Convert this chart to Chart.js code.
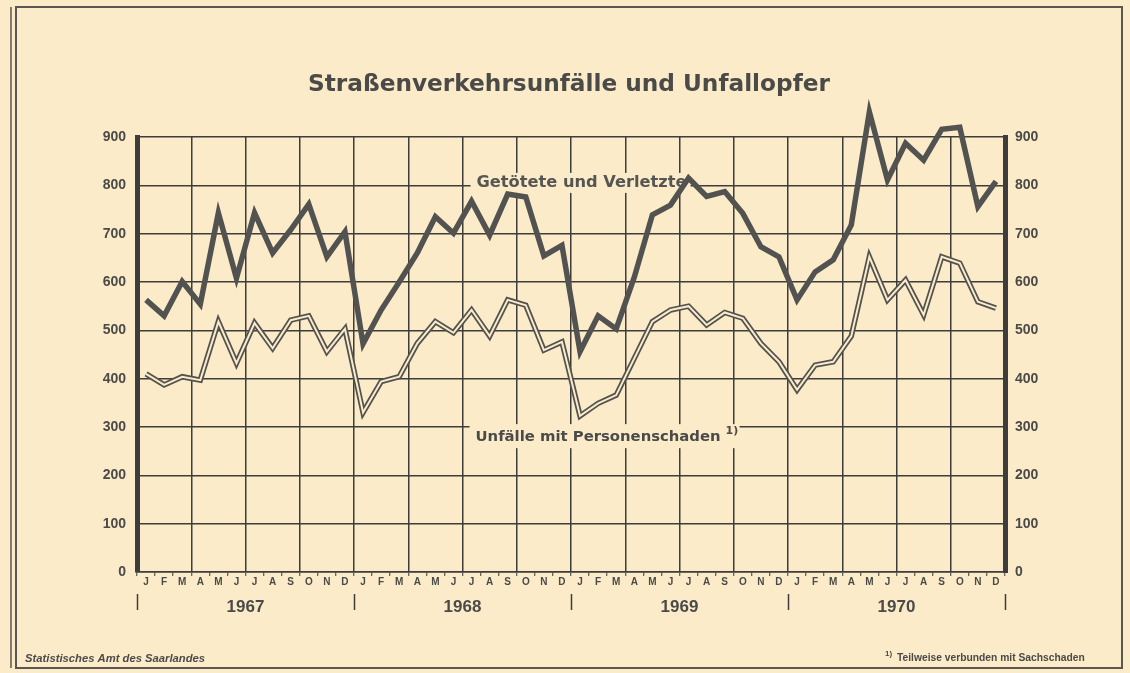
<!DOCTYPE html>
<html>
<head>
<meta charset="utf-8">
<script src="https://cdn.jsdelivr.net/npm/chart.js@4.4.0/dist/chart.umd.min.js"></script>
<style>
html,body{margin:0;padding:0;background:#fbebc8;}
#wrap{position:relative;width:1130px;height:673px;}
canvas{display:block;}
</style>
</head>
<body>
<div id="wrap"><canvas id="c" width="1130" height="673"></canvas></div>
<script>
// ---- data ----
const monthLetters = ['J','F','M','A','M','J','J','A','S','O','N','D'];
const years = ['1967','1968','1969','1970'];
const months = years.flatMap(() => monthLetters);
const yTickValues = [0,100,200,300,400,500,600,700,800,900];

const titleText = 'Straßenverkehrsunfälle und Unfallopfer';
const seriesNames = ['Getötete und Verletzte', 'Unfälle mit Personenschaden'];
const sourceText = 'Statistisches Amt des Saarlandes';
const footnoteText = 'Teilweise verbunden mit Sachschaden';

// Getötete und Verletzte (monthly, 1967-1970)
const getoetete = [
  563, 530, 601, 554, 743, 608, 743, 660, 708, 761, 652, 704,
  472, 542, 600, 660, 735, 701, 767, 697, 782, 776, 654, 676,
  456, 530, 503, 610, 739, 759, 815, 777, 787, 742, 673, 652,
  563, 621, 646, 718, 952, 811, 887, 852, 916, 920, 756, 808
];
// Unfälle mit Personenschaden (monthly, 1967-1970)
const unfaelle = [
  410, 387, 404, 397, 518, 432, 515, 463, 521, 530, 456, 503,
  330, 394, 404, 473, 518, 495, 542, 488, 563, 552, 459, 476,
  323, 349, 366, 442, 518, 542, 550, 511, 537, 525, 473, 435,
  377, 428, 435, 488, 652, 563, 604, 532, 652, 639, 559, 546
];

// ---- styles ----
const paper = '#fbebc8';
const ink = '#3d3d3b';
const lineInk = '#525250';
const textInk = '#4a4a48';
const fam = '"DejaVu Sans", "Liberation Sans", sans-serif';
const numFam = '"Liberation Sans", Arial, sans-serif';

function fitFont(ctx, text, target, weight, family, base, style) {
  ctx.font = (style||'') + ' ' + weight + ' ' + base + 'px ' + family;
  const w = ctx.measureText(text).width;
  const size = base * target / w;
  ctx.font = (style||'') + ' ' + weight + ' ' + size.toFixed(2) + 'px ' + family;
  return size;
}

const decor = {
  id: 'decor',
  beforeDraw(chart) {
    const {ctx, width, height} = chart;
    ctx.save();
    ctx.fillStyle = paper;
    ctx.fillRect(0, 0, width, height);
    ctx.strokeStyle = '#5a5650';
    ctx.lineWidth = 2;
    ctx.strokeRect(16, 7, 1106, 661);
    ctx.lineWidth = 1.5;
    ctx.beginPath(); ctx.moveTo(11, 7); ctx.lineTo(11, 668); ctx.stroke();
    ctx.restore();
  },
  beforeDatasetsDraw(chart) {
    const {ctx} = chart;
    const x = chart.scales.x, y = chart.scales.y;
    ctx.save();
    ctx.textBaseline = 'middle';
    ctx.textAlign = 'left';
    // label 1
    let lx = x.getPixelForValue(18) + 5, ly = y.getPixelForValue(805);
    fitFont(ctx, seriesNames[0], 210, 'bold', fam, 14);
    ctx.fillStyle = paper;
    ctx.fillRect(lx - 6, ly - 10, 220, 20);
    ctx.fillStyle = '#555553';
    ctx.fillText(seriesNames[0], lx, ly);
    // label 2
    lx = x.getPixelForValue(18) + 4; ly = y.getPixelForValue(279);
    fitFont(ctx, seriesNames[1], 245, 'bold', fam, 15);
    ctx.fillStyle = paper;
    ctx.fillRect(lx - 6, ly - 13, 270, 24);
    ctx.fillStyle = textInk;
    ctx.fillText(seriesNames[1], lx, ly);
    ctx.font = 'bold 11px ' + fam;
    ctx.fillText('1)', lx + 250, ly - 6);
    ctx.restore();
  },
  afterDraw(chart) {
    const {ctx} = chart;
    ctx.save();
    ctx.fillStyle = textInk;
    ctx.textBaseline = 'middle';
    ctx.textAlign = 'center';
    fitFont(ctx, titleText, 522, 'bold', fam, 22);
    ctx.fillText(titleText, 569, 85);
    ctx.textAlign = 'left';
    fitFont(ctx, sourceText, 180, 'bold', numFam, 11, 'italic');
    ctx.fillText(sourceText, 25, 659);
    ctx.font = 'bold 8px ' + numFam;
    ctx.fillText('1)', 885, 654);
    fitFont(ctx, footnoteText, 188, 'bold', numFam, 10);
    ctx.fillText(footnoteText, 897, 658);
    ctx.restore();
  }
};

const tickFont = {family: numFam, size: 14, weight: 'bold'};

new Chart(document.getElementById('c'), {
  type: 'line',
  data: {
    labels: months,
    datasets: [
      { label: seriesNames[0], data: getoetete, borderColor: lineInk, borderWidth: 5.5,
        pointRadius: 0, tension: 0, clip: false, order: 2, xAxisID: 'x', yAxisID: 'y' },
      { label: seriesNames[1], data: unfaelle, borderColor: lineInk, borderWidth: 5.5,
        pointRadius: 0, tension: 0, clip: false, order: 1, xAxisID: 'x', yAxisID: 'y' },
      { label: seriesNames[1] + ' (inner)', data: unfaelle, borderColor: paper, borderWidth: 2,
        pointRadius: 0, tension: 0, clip: false, order: 0, xAxisID: 'x', yAxisID: 'y' }
    ]
  },
  options: {
    responsive: false,
    animation: false,
    events: [],
    layout: { padding: { top: 137, bottom: 49, left: 0, right: 0 } },
    plugins: { legend: { display: false }, tooltip: { enabled: false }, title: { display: false } },
    scales: {
      x: {
        type: 'category', labels: months, position: 'bottom', offset: true,
        grid: {
          offset: true, lineWidth: 1.5, tickLength: 4, tickWidth: 1, tickColor: ink,
          color: c => (c.index % 3 === 0 ? ink : 'rgba(0,0,0,0)')
        },
        border: { display: true, color: ink, width: 1.5 },
        ticks: { autoSkip: false, maxRotation: 0, minRotation: 0, padding: 0,
          font: { family: numFam, size: 10, weight: 'bold' }, color: textInk },
        afterFit: s => { s.height = 22; }
      },
      xYear: {
        type: 'category', labels: years, position: 'bottom', offset: true,
        grid: { offset: true, drawOnChartArea: false, tickLength: 16, tickWidth: 1.5, tickColor: ink },
        border: { display: false },
        ticks: { padding: -13, maxRotation: 0, font: { family: numFam, size: 17, weight: 'bold' }, color: textInk },
        afterFit: s => { s.height = 30; }
      },
      y: {
        position: 'left', min: 0, max: 900,
        afterBuildTicks: s => { s.ticks = yTickValues.map(v => ({value: v})); },
        grid: { color: ink, lineWidth: 1.5, drawTicks: false },
        border: { color: ink, width: 5 },
        ticks: { padding: 11, font: tickFont, color: textInk },
        afterFit: s => { s.width = 137; }
      },
      y2: {
        position: 'right', min: 0, max: 900,
        afterBuildTicks: s => { s.ticks = yTickValues.map(v => ({value: v})); },
        grid: { drawOnChartArea: false, drawTicks: false },
        border: { color: ink, width: 5 },
        ticks: { padding: 10, font: tickFont, color: textInk },
        afterFit: s => { s.width = 125; }
      }
    }
  },
  plugins: [decor]
});
</script>
</body>
</html>
